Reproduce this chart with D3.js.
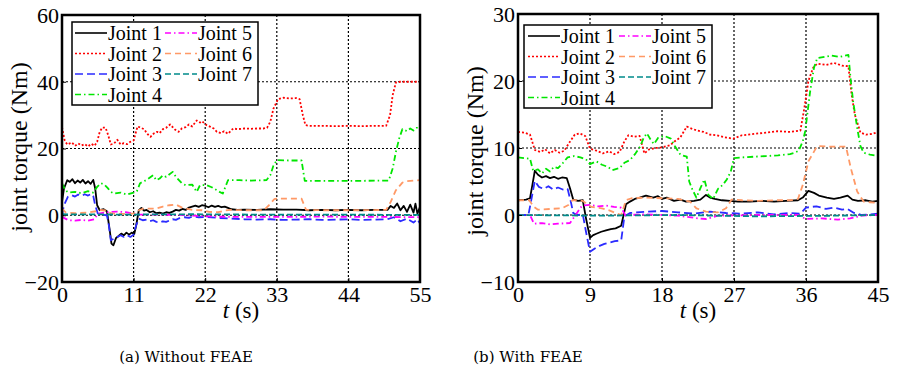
<!DOCTYPE html>
<html>
<head>
<meta charset="utf-8">
<script src="https://cdn.jsdelivr.net/npm/d3@7"></script>
<style>
  body { margin: 0; background: #fff; }
  svg text { font-family: "Liberation Serif", "Times New Roman", "DejaVu Serif", serif; fill: #000; }
  svg text.caption { font-family: "DejaVu Serif", "Liberation Serif", serif; }
</style>
</head>
<body>
<div id="chart"></div>
<script>
// ---------------- data: [t (s), torque (Nm)] ----------------
const jointNames = ["Joint 1", "Joint 2", "Joint 3", "Joint 4", "Joint 5", "Joint 6", "Joint 7"];

// (a) Without FEAE
const a_xTicks = [0, 11, 22, 33, 44, 55];
const a_yTicks = [-20, 0, 20, 40, 60];

const a_joint1 = [[0,4],[0.3,8],[0.8,10.5],[1.2,10],[1.6,10.8],[2,9.6],[2.4,10.4],[2.8,9.8],[3.2,10.6],[3.6,9.5],[4,10.2],[4.4,9.4],[4.8,10.6],[5.1,8],[5.4,3],[5.8,1.5],[6.4,1.8],[6.9,1.2],[7.3,-4],[7.6,-8.5],[7.9,-9],[8.3,-6.8],[8.7,-6.2],[9.1,-5.5],[9.5,-6],[9.9,-5.2],[10.3,-5.8],[10.7,-5.2],[11.1,-5.6],[11.4,-3],[11.8,1.5],[12.2,2.2],[12.6,1.4],[13,1.6],[13.5,0.9],[14,1.2],[14.5,0.6],[15,0.8],[15.5,0.5],[16,0.9],[16.5,0.7],[17,1.1],[17.5,1.6],[18,1.4],[18.5,1.9],[19,1.6],[19.5,2.3],[20,2.6],[20.5,2.9],[21,2.5],[21.5,3],[22,2.8],[22.5,2.4],[23,2.9],[23.5,2.5],[24,2.8],[24.5,2.4],[25,2.6],[25.5,2.2],[26,1.8],[27,1.6],[28,1.7],[30,1.6],[32,1.8],[34,1.7],[36,1.7],[38,1.5],[40,1.6],[42,1.5],[44,1.6],[46,1.5],[48,1.6],[50,1.6],[50.5,2.8],[51,2.2],[51.5,3.5],[52,1.5],[52.5,2.8],[53,1],[53.5,3.2],[54,0.8],[54.3,3.5],[54.6,0.5],[55,2.5]];
const a_joint2 = [[0,26.4],[0.4,22.5],[0.8,21.2],[1.5,21.8],[2,20.8],[2.5,21.5],[3,20.9],[3.5,21.3],[4,20.6],[4.5,21.4],[5,20.8],[5.4,22],[5.8,25],[6.2,26.3],[6.7,26.2],[7.1,24],[7.5,21.2],[8,21.5],[8.5,22.6],[9,21.2],[9.5,21.6],[10,21.3],[10.5,22],[11,22.4],[11.3,24.5],[11.6,26.6],[12,26.3],[12.6,25.8],[13.2,24.2],[13.6,23.5],[14.1,24.5],[14.6,25],[15,24.6],[15.5,25.8],[16,26.2],[16.6,27.2],[17,26.4],[17.4,25.6],[17.9,25],[18.4,26],[19,26.4],[19.5,27.2],[20,26.6],[20.7,28.4],[21.2,27.8],[21.5,28.2],[22.2,27],[22.8,26.5],[23.3,26],[23.8,25],[24.4,24.6],[24.9,25.2],[25.5,24.4],[26.3,26],[27,25.8],[28,26],[29,25.9],[30,26],[31,26],[31.5,26.2],[32,28],[32.5,32],[33.2,34.8],[34,35.2],[35,35],[36,35.1],[36.5,34.8],[37,30],[37.4,27],[38,26.8],[40,26.8],[42,26.7],[44,26.8],[46,26.7],[48,26.8],[49.8,26.8],[50.4,30],[50.8,36],[51.3,39.8],[52,40],[55,40]];
const a_joint3 = [[0,0],[0.3,3],[0.9,5.5],[1.5,6],[2,5.6],[2.5,6.2],[3,5.8],[3.5,6.3],[4,5.9],[4.5,6.4],[4.8,5.8],[5.1,3],[5.5,0.5],[6,0.2],[6.9,0],[7.2,-3],[7.5,-7.5],[8,-7],[8.5,-6.5],[9,-6],[9.5,-6.5],[10,-6],[10.5,-6.5],[11,-5.8],[11.4,-3],[11.8,-1],[12.4,-1.5],[13,-1.3],[13.5,-1.8],[14,-1.5],[14.5,-2],[15,-2.2],[15.5,-1.8],[16,-2],[16.5,-1.6],[17,-1.2],[17.5,-1.4],[18,-0.9],[18.8,-0.6],[19.5,-0.8],[20,-0.4],[21,-0.6],[22,-0.5],[24,-0.8],[26,-1],[28,-1.2],[30,-1.3],[32,-1.2],[34,-1.4],[36,-1.3],[38,-1.2],[40,-1.4],[42,-1.3],[44,-1.2],[46,-1.4],[48,-1.3],[50,-1.2],[51,-0.6],[52,-1.8],[53,-1],[54,-2.2],[54.6,-1.2],[55,-2.5]];
const a_joint4 = [[0,9.6],[0.5,7.5],[1,6.8],[2,7],[3,6.6],[4,7.2],[4.8,6.8],[5.4,8.5],[6,9.6],[6.5,9.2],[7,8.2],[7.5,7],[8,6.5],[9,6.8],[10,6.2],[11,6.8],[11.5,7.2],[12,9.6],[13,10.6],[14,12],[14.5,10.5],[15,11],[15.5,12],[16,11.5],[17,13],[17.5,11.5],[18.4,9.6],[19,9],[20,9.2],[20.7,7],[21.2,9],[22.2,9],[23,8.4],[24.2,7],[24.7,6.5],[25.5,10.5],[27.3,10.5],[29,10.4],[31.4,10.5],[32,12],[32.5,15],[33,16.5],[35,16.4],[36.8,16.4],[37.3,10.3],[40,10.3],[45,10.3],[50.2,10.4],[50.8,14],[51.3,19],[51.8,23],[52.3,25.8],[53,25.2],[53.5,26],[54,25.4],[54.5,26.2],[55,25.6]];
const a_joint5 = [[0,-0.5],[1,-1.5],[2,-1.6],[3,-1.4],[4,-1.6],[5,-1.2],[5.5,0.5],[6.5,0.8],[7.7,1],[8.5,1.1],[9.8,0.9],[10.8,0.6],[11.5,0.2],[14,0.2],[18,0.1],[22,-0.3],[26,-0.5],[30,-0.5],[35,-0.5],[40,-0.4],[45,-0.5],[50,-0.5],[55,-0.6]];
const a_joint6 = [[0,2],[0.6,0.8],[2,0.6],[4,0.8],[5.2,1.2],[5.6,1.6],[6.9,1.4],[7.5,0.6],[9,0.4],[11,0.5],[11.8,1.5],[12.5,2],[14.5,2],[15.5,2.6],[16.5,3],[17.5,3.2],[18.5,2.2],[20,1.6],[21.5,1.5],[22.6,1],[24,0.9],[25,1.4],[26,1.6],[28,1.5],[31,1.5],[31.8,3],[32.6,4.8],[33,5],[36.8,5],[37.5,1.6],[40,1.5],[45,1.5],[49.8,1.6],[50.5,4],[51.3,7.5],[52.3,9.8],[53,10.2],[55,10.5]];
const a_joint7 = [[0,0.3],[10,0.2],[20,0.3],[30,0.2],[40,0.2],[55,0.1]];

// (b) With FEAE
const b_xTicks = [0, 9, 18, 27, 36, 45];
const b_yTicks = [-10, 0, 10, 20, 30];

const b_joint1 = [[0,2.2],[1,2.3],[1.5,2.5],[1.8,4.5],[2.1,6.6],[2.5,6],[3,5.6],[3.5,5.8],[4,5.5],[4.5,5.7],[5,5.4],[5.5,5.6],[6.1,5.5],[6.5,4],[6.9,2.3],[7.5,2.1],[8.1,2.2],[8.5,-0.5],[9,-3.4],[9.4,-3],[9.8,-2.8],[10.4,-2.5],[11,-2.3],[11.6,-2.1],[12.2,-2],[12.9,-1.6],[13.2,0],[13.5,1.6],[14,2],[14.6,2.4],[15.2,2.6],[16,2.9],[16.9,2.6],[17.5,2.8],[18,2.4],[18.6,2.6],[19.5,2.1],[20.3,2.3],[21,2],[22,2.1],[22.8,2.3],[23.5,3],[24,2.6],[24.6,2.4],[25.5,2.2],[26.5,2.1],[27.5,2],[29,2],[30.5,2.1],[32,2],[33.5,2.1],[35,2.2],[35.6,2.6],[36.3,3.6],[37,3.3],[37.6,2.9],[38.6,2.6],[39.5,2.4],[40.3,2.6],[41.2,2.9],[41.8,2.3],[42.5,2.1],[43.5,2.2],[44.3,2],[45,2.1]];
const b_joint2 = [[0,12.4],[0.8,12.3],[1.5,12],[2.1,9.7],[2.8,9.4],[3.4,9.8],[4,9.2],[4.6,9.7],[5.2,9.3],[5.8,9.6],[6.3,10.6],[7.1,12],[7.7,12.2],[8.4,11.8],[9,9.9],[9.8,9.6],[10.6,9.2],[11.4,9.5],[12,9.1],[12.7,9.4],[13.3,11],[13.8,11.9],[14.5,11.7],[15.2,11.8],[15.8,9.2],[16.4,9.8],[17.2,10],[18,10.1],[19,10.4],[19.6,11],[20.3,11.6],[21.1,13.2],[21.7,12.9],[22.4,12.6],[23.2,12.4],[24,12],[24.8,11.9],[25.8,11.6],[26.9,11.4],[28,11.9],[29.5,12.1],[31,12.3],[32.5,12.5],[34,12.4],[35.3,12.6],[35.8,16],[36.3,20],[36.9,22],[37.4,22.6],[38.5,22.4],[39.5,22.7],[40.5,22.3],[41.3,22.2],[41.7,18],[42.1,15],[42.8,12.3],[43.5,12],[44.3,12.1],[45,12.4]];
const b_joint3 = [[0,0],[1.3,0],[1.7,2.5],[2.1,5.1],[2.6,4.2],[3.2,3.9],[3.8,4.3],[4.4,3.8],[5,4.1],[5.6,3.8],[6.2,3.9],[6.6,2],[6.9,0.3],[7.5,0],[8.1,0.1],[8.5,-2.5],[9,-5.5],[9.6,-5],[10.2,-4.6],[10.8,-4.3],[11.5,-4.1],[12.1,-3.9],[12.9,-3.8],[13.3,-0.2],[14,0.3],[16,0.5],[18,0.6],[20,0.4],[22,0.2],[24,0.5],[26,0.3],[28,0.2],[30,0.4],[32,0.1],[34,0.3],[35.3,0.2],[36,1.1],[37.3,1.3],[38.5,0.9],[39.5,1.1],[40.5,0.8],[41.2,0.9],[42,0.3],[43,0],[45,0.2]];
const b_joint4 = [[0,8.6],[1.5,8.4],[1.9,6.6],[2.5,6.8],[3,6.2],[3.5,6.9],[4,6.5],[4.5,7.2],[5,7],[5.5,7.6],[6.2,8.6],[7,8.8],[7.8,8.6],[8.5,8.3],[9,7.6],[9.8,8],[10.5,7.5],[11.2,7.2],[11.8,6.7],[12.7,7],[13.3,7.8],[14,8.2],[14.7,9.2],[15.3,10.3],[15.7,11.5],[16.1,12.2],[16.6,11.2],[17,10.6],[17.5,11.5],[18.3,11.8],[19.1,11.4],[19.6,10.3],[20.3,9],[21.1,8.7],[21.4,5],[21.8,3.8],[22.3,2.6],[22.8,4],[23.3,5.3],[23.8,3],[24.4,2.4],[25,3.9],[25.6,4.5],[26.1,5.3],[26.6,6.5],[27,8.5],[28,8.6],[29.5,8.7],[31,8.8],[32.5,8.9],[34,9.1],[34.6,9.3],[35.1,9.6],[35.6,11],[35.9,12.5],[36.5,18.3],[37,22],[37.4,23.4],[38.3,23.6],[39.2,23.8],[40.2,23.6],[41.3,23.9],[41.6,20],[41.9,16.9],[42.4,13],[42.8,10.3],[43.2,9.3],[44,9],[45,8.8]];
const b_joint5 = [[0,0],[1.5,0],[2,-1.3],[3,-1.2],[4,-1.4],[5,-1.3],[6.5,-1.2],[7.2,0],[8,1.4],[9,1.5],[10,1.3],[11,1.4],[12,1.2],[12.9,1.1],[13.4,0],[16,0.1],[20,-0.1],[22.5,-0.5],[23.5,-0.6],[25,-0.1],[30,0],[35,0],[36,-0.6],[38,-0.5],[40,-0.7],[41.5,-0.5],[43,-0.1],[45,0]];
const b_joint6 = [[0,2.2],[1.4,2.2],[2,1.2],[2.5,0.8],[4,0.9],[5.5,1],[6.3,1.5],[6.8,2.2],[7.5,2.2],[8.1,2.1],[9.2,1.2],[10.5,1],[11.4,0.7],[12.2,0.3],[12.9,0],[13.5,2.2],[14.2,2.5],[16,2.6],[18,2.5],[20,2.4],[21.5,2],[22.3,1],[23.5,0.5],[25,0.4],[26,1],[26.7,2.3],[28,2.2],[30,2.1],[32,2.2],[34,2.2],[35,2.4],[35.6,4.5],[36.3,8],[37.4,10.3],[39,10.2],[41,10.2],[41.6,7],[42.4,3.5],[43.2,2],[44,1.9],[45,1.8]];
const b_joint7 = [[0,0],[10,-0.1],[20,0],[30,-0.2],[40,-0.1],[45,0]];

// line styles for each joint (MATLAB-like)
const styles = [
  { color: "#000000", dash: null,        width: 1.8 },
  { color: "#ff0000", dash: "2,2",       width: 1.8 },
  { color: "#2b2bff", dash: "8,4",       width: 1.8 },
  { color: "#00e600", dash: "6,3,1.5,3", width: 1.8 },
  { color: "#ff00ff", dash: "6,3,1.5,3", width: 1.8 },
  { color: "#ff9966", dash: "6,4",       width: 1.8 },
  { color: "#008b8b", dash: "6,3",       width: 1.8 }
];

const svg = d3.select("#chart").append("svg")
  .attr("width", 897)
  .attr("height", 373);

function drawPanel(p) {
  const x = d3.scaleLinear().domain(p.xDomain).range([p.left, p.right]);
  const y = d3.scaleLinear().domain(p.yDomain).range([p.bottom, p.top]);
  const g = svg.append("g");

  // clip so lines stay inside the box
  g.append("clipPath").attr("id", p.id + "-clip")
    .append("rect")
    .attr("x", p.left).attr("y", p.top)
    .attr("width", p.right - p.left).attr("height", p.bottom - p.top);

  // dotted grid
  g.selectAll(".vgrid").data(p.xTicks.slice(1, -1)).enter().append("line")
    .attr("x1", d => x(d)).attr("x2", d => x(d))
    .attr("y1", p.top).attr("y2", p.bottom)
    .attr("stroke", "#000").attr("stroke-width", 1.2).attr("stroke-dasharray", "2,2");
  g.selectAll(".hgrid").data(p.yTicks.slice(1, -1)).enter().append("line")
    .attr("y1", d => y(d)).attr("y2", d => y(d))
    .attr("x1", p.left).attr("x2", p.right)
    .attr("stroke", "#000").attr("stroke-width", 1.2).attr("stroke-dasharray", "2,2");

  // the seven joints
  const line = d3.line().x(d => x(d[0])).y(d => y(d[1]));
  const lines = g.append("g").attr("clip-path", `url(#${p.id}-clip)`);
  p.series.forEach((s, i) => {
    lines.append("path")
      .datum(s)
      .attr("fill", "none")
      .attr("stroke", styles[i].color)
      .attr("stroke-width", styles[i].width)
      .attr("stroke-dasharray", styles[i].dash)
      .attr("stroke-linejoin", "round")
      .attr("d", line);
  });

  // axes (ticks inward, labels outside)
  const xAxis = g.append("g")
    .attr("transform", `translate(0,${p.bottom})`)
    .call(d3.axisBottom(x).tickValues(p.xTicks).tickSize(-4).tickPadding(20));
  const yAxis = g.append("g")
    .attr("transform", `translate(${p.left},0)`)
    .call(d3.axisLeft(y).tickValues(p.yTicks).tickSize(-4).tickPadding(3));
  [xAxis, yAxis].forEach(a => {
    a.attr("font-family", null).attr("font-size", 22);
    a.select(".domain").remove();
    a.selectAll("text").attr("fill", "#000");
  });
  xAxis.selectAll("text").attr("dy", "0");
  yAxis.selectAll("text").attr("dy", "0.34em");

  // frame
  g.append("rect")
    .attr("x", p.left).attr("y", p.top)
    .attr("width", p.right - p.left).attr("height", p.bottom - p.top)
    .attr("fill", "none").attr("stroke", "#000").attr("stroke-width", 2.5);

  // axis titles
  const xt = g.append("text")
    .attr("x", (p.left + p.right) / 2)
    .attr("y", 318)
    .attr("text-anchor", "middle")
    .attr("font-size", 23);
  xt.append("tspan").attr("font-style", "italic").text("t");
  xt.append("tspan").text(" (s)");

  g.append("text")
    .attr("transform", `translate(${p.yLabelX},${p.yLabelY}) rotate(-90)`)
    .attr("text-anchor", "middle")
    .attr("font-size", 24)
    .text("joint torque (Nm)");

  // legend
  const lg = g.append("g");
  lg.append("rect")
    .attr("x", p.legend.x).attr("y", p.legend.y)
    .attr("width", p.legend.w).attr("height", p.legend.h)
    .attr("fill", "#fff").attr("stroke", "#000").attr("stroke-width", 1.5);
  jointNames.forEach((name, i) => {
    const col = i < 4 ? 0 : 1;
    const row = i < 4 ? i : i - 4;
    const sx = p.legend.cols[col];
    const cy = p.legend.y + 11 + row * 20.5;
    lg.append("line")
      .attr("x1", sx).attr("x2", sx + 32)
      .attr("y1", cy).attr("y2", cy)
      .attr("stroke", styles[i].color)
      .attr("stroke-width", 1.6)
      .attr("stroke-dasharray", styles[i].dash);
    lg.append("text")
      .attr("x", sx + 33).attr("y", cy + 7)
      .attr("font-size", 20)
      .text(name);
  });

  // caption
  g.append("text")
    .attr("class", "caption")
    .attr("x", p.captionX).attr("y", 362)
    .attr("text-anchor", "middle")
    .attr("font-size", 15)
    .text(p.caption);
}

drawPanel({
  id: "a", left: 62, right: 420, top: 15, bottom: 282,
  xDomain: [0, 55], yDomain: [-20, 60],
  xTicks: a_xTicks, yTicks: a_yTicks,
  series: [a_joint1, a_joint2, a_joint3, a_joint4, a_joint5, a_joint6, a_joint7],
  yLabelX: 27, yLabelY: 147,
  legend: { x: 72, y: 22, w: 186, h: 83, cols: [75, 165] },
  caption: "(a) Without FEAE", captionX: 186
});

drawPanel({
  id: "b", left: 518, right: 878, top: 14, bottom: 282,
  xDomain: [0, 45], yDomain: [-10, 30],
  xTicks: b_xTicks, yTicks: b_yTicks,
  series: [b_joint1, b_joint2, b_joint3, b_joint4, b_joint5, b_joint6, b_joint7],
  yLabelX: 483, yLabelY: 151,
  legend: { x: 524, y: 25, w: 188, h: 83, cols: [528, 619] },
  caption: "(b) With FEAE", captionX: 528
});
</script>
</body>
</html>
